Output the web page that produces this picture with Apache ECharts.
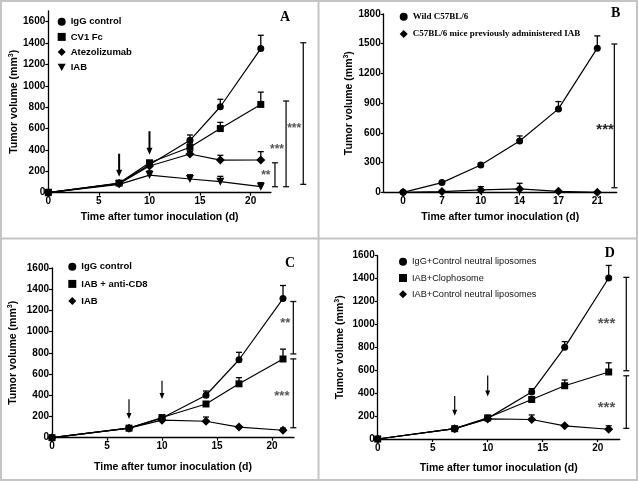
<!DOCTYPE html>
<html><head><meta charset="utf-8">
<script src="https://cdn.jsdelivr.net/npm/echarts@6/dist/echarts.min.js"></script>
<style>html,body{margin:0;padding:0;background:#fff}#c{width:638px;height:481px}</style>
</head><body><div id="c"></div>
<script>
// ---------------- DATA ----------------
const DAYS = [0, 7, 10, 14, 17, 21];
const B_DAY_LABELS = ['0', '7', '10', '14', '17', '21'];
const X_TICKS = [0, 5, 10, 15, 20];
const Y_TICKS_1600 = [0, 200, 400, 600, 800, 1000, 1200, 1400, 1600];
const Y_TICKS_B = [0, 300, 600, 900, 1200, 1500, 1800];

// Panel A
const A_NAMES = ['IgG control', 'CV1 Fc', 'Atezolizumab', 'IAB'];
const A_IGG = [0, 88, 262, 490, 804, 1348];
const A_IGG_ERR = [0, 8, 15, 50, 70, 125];
const A_CV1 = [0, 90, 280, 425, 600, 826];
const A_CV1_ERR = [0, 8, 15, 40, 58, 115];
const A_ATEZO = [0, 85, 250, 362, 305, 306];
const A_ATEZO_ERR = [0, 8, 15, 25, 45, 78];
const A_IAB = [0, 78, 165, 128, 103, 56];
const A_IAB_ERR = [0, 8, 40, 40, 50, 38];
const A_ARROWS = [[7, 365, 150], [10, 575, 355]];
const A_BRACKETS = [[22.4, 56, 280], [23.5, 56, 858], [25.2, 78, 1403]];
const A_STARS = [[21.5, 180], [22.6, 425], [24.3, 624]];
const A_STAR_TEXT = ['**', '***', '***'];

// Panel B
const B_NAMES = ['Wild C57BL/6', 'C57BL/6 mice previously administered IAB'];
const B_WILD = [0, 98, 276, 518, 842, 1455];
const B_WILD_ERR = [0, 8, 17, 51, 74, 124];
const B_PREV = [0, 7, 24, 34, 10, 0];
const B_PREV_ERR = [0, 3, 33, 57, 4, 3];
const B_BRACKETS = [[5.44, 46, 1497]];
const B_STARS = [[5.2, 660]];
const B_STAR_TEXT = ['***'];

// Panel C
const C_NAMES = ['IgG control', 'IAB + anti-CD8', 'IAB'];
const C_IGG = [0, 90, 185, 400, 735, 1312];
const C_IGG_ERR = [0, 8, 15, 40, 70, 123];
const C_CD8 = [0, 90, 190, 318, 508, 742];
const C_CD8_ERR = [0, 8, 15, 20, 58, 93];
const C_IAB = [0, 90, 165, 155, 100, 70];
const C_IAB_ERR = [0, 8, 15, 40, 10, 20];
const C_ARROWS = [[7, 363, 177], [10, 538, 365]];
const C_BRACKETS = [[21.94, 790, 1284], [21.94, 94, 743]];
const C_STARS = [[21.2, 1100], [20.9, 413]];
const C_STAR_TEXT = ['**', '***'];

// Panel D
const D_NAMES = ['IgG+Control neutral liposomes', 'IAB+Clophosome', 'IAB+Control neutral liposomes'];
const D_IGG = [0, 90, 180, 410, 800, 1405];
const D_IGG_ERR = [0, 8, 15, 30, 50, 110];
const D_CLO = [0, 90, 185, 345, 465, 585];
const D_CLO_ERR = [0, 8, 15, 15, 50, 80];
const D_IAB = [0, 90, 175, 170, 115, 85];
const D_IAB_ERR = [0, 8, 10, 40, 10, 30];
const D_ARROWS = [[7, 375, 203], [10, 555, 372]];
const D_BRACKETS = [[22.6, 596, 1411], [22.6, 93, 552]];
const D_STARS = [[20.8, 1030], [20.8, 303]];
const D_STAR_TEXT = ['***', '***'];

// ---------------- RENDERING ----------------
const SANS = '"Liberation Sans", Arial, Helvetica, sans-serif';
const SERIF = '"Liberation Serif", "Times New Roman", serif';
const INV_TRI = 'path://M0,0L10,0L5,9Z';
const B_X = B_DAY_LABELS.map((_, k) => k);

const chart = echarts.init(document.getElementById('c'), null, { renderer: 'canvas' });

function errRender(params, api) {
  const e = api.value(2);
  if (!e) return null;
  const p0 = api.coord([api.value(0), api.value(1)]);
  const p1 = api.coord([api.value(0), api.value(1) + e]);
  const w = 3;
  return { type: 'group', children: [
    { type: 'line', shape: { x1: p0[0], y1: p0[1], x2: p1[0], y2: p1[1] }, style: { stroke: '#000', lineWidth: 1.3 } },
    { type: 'line', shape: { x1: p1[0] - w, y1: p1[1], x2: p1[0] + w, y2: p1[1] }, style: { stroke: '#000', lineWidth: 1.3 } }
  ] };
}
function bracketRender(params, api) {
  const lo = api.coord([api.value(0), api.value(1)]);
  const hi = api.coord([api.value(0), api.value(2)]);
  const w = 3;
  const st = { stroke: '#111', lineWidth: 1.3 };
  return { type: 'group', children: [
    { type: 'line', shape: { x1: lo[0], y1: lo[1], x2: hi[0], y2: hi[1] }, style: st },
    { type: 'line', shape: { x1: lo[0] - w, y1: lo[1], x2: lo[0] + w, y2: lo[1] }, style: st },
    { type: 'line', shape: { x1: hi[0] - w, y1: hi[1], x2: hi[0] + w, y2: hi[1] }, style: st }
  ] };
}
function arrowRender(lw, hw, hl) {
  return function (params, api) {
    const t = api.coord([api.value(0), api.value(1)]);
    const b = api.coord([api.value(0), api.value(2)]);
    return { type: 'group', children: [
      { type: 'line', shape: { x1: t[0], y1: t[1], x2: b[0], y2: b[1] - hl + 1 }, style: { stroke: '#000', lineWidth: lw } },
      { type: 'polygon', shape: { points: [[b[0] - hw / 2, b[1] - hl], [b[0] + hw / 2, b[1] - hl], [b[0], b[1]]] }, style: { fill: '#000' } }
    ] };
  };
}
function starRender(texts, fs, color) {
  return function (params, api) {
    const p = api.coord([api.value(0), api.value(1)]);
    return { type: 'text', x: p[0], y: p[1] + fs * 0.22, style: { text: texts[params.dataIndex], fill: color, font: 'bold ' + fs + 'px ' + SANS, align: 'center', verticalAlign: 'middle' } };
  };
}

const series = [];
function addPanel(gi, xs, lines, arrows, arrowStyle, brackets, stars, starText, starFs, starColor) {
  lines.forEach(l => {
    series.push({ type: 'custom', xAxisIndex: gi, yAxisIndex: gi, silent: true, z: 3,
      data: xs.map((x, k) => [x, l.v[k], l.e[k]]), renderItem: errRender });
    series.push({ type: 'line', name: l.name, xAxisIndex: gi, yAxisIndex: gi, silent: true, z: 5,
      data: xs.map((x, k) => [x, l.v[k]]), symbol: l.sym, symbolSize: l.size, showSymbol: true, showAllSymbol: true,
      itemStyle: { color: '#000' }, lineStyle: { color: '#000', width: 1.2 } });
  });
  if (arrows) series.push({ type: 'custom', xAxisIndex: gi, yAxisIndex: gi, silent: true, z: 6, data: arrows, renderItem: arrowRender.apply(null, arrowStyle) });
  series.push({ type: 'custom', xAxisIndex: gi, yAxisIndex: gi, silent: true, z: 6, clip: false, data: brackets, renderItem: bracketRender });
  series.push({ type: 'custom', xAxisIndex: gi, yAxisIndex: gi, silent: true, z: 6, clip: false, data: stars, renderItem: starRender(starText, starFs, starColor) });
}

addPanel(0, DAYS, [
  { name: A_NAMES[0], v: A_IGG, e: A_IGG_ERR, sym: 'circle', size: 7 },
  { name: A_NAMES[1], v: A_CV1, e: A_CV1_ERR, sym: 'rect', size: 7 },
  { name: A_NAMES[2], v: A_ATEZO, e: A_ATEZO_ERR, sym: 'diamond', size: 9 },
  { name: A_NAMES[3], v: A_IAB, e: A_IAB_ERR, sym: INV_TRI, size: 8 }
], A_ARROWS, [2, 6, 7], A_BRACKETS, A_STARS, A_STAR_TEXT, 12, '#555');
addPanel(1, B_X, [
  { name: B_NAMES[0], v: B_WILD, e: B_WILD_ERR, sym: 'circle', size: 7 },
  { name: B_NAMES[1], v: B_PREV, e: B_PREV_ERR, sym: 'diamond', size: 9 }
], null, null, B_BRACKETS, B_STARS, B_STAR_TEXT, 15, '#222');
addPanel(2, DAYS, [
  { name: C_NAMES[0], v: C_IGG, e: C_IGG_ERR, sym: 'circle', size: 7 },
  { name: C_NAMES[1], v: C_CD8, e: C_CD8_ERR, sym: 'rect', size: 7 },
  { name: C_NAMES[2], v: C_IAB, e: C_IAB_ERR, sym: 'diamond', size: 9 }
], C_ARROWS, [1.2, 5, 6], C_BRACKETS, C_STARS, C_STAR_TEXT, 13, '#555');
addPanel(3, DAYS, [
  { name: D_NAMES[0], v: D_IGG, e: D_IGG_ERR, sym: 'circle', size: 7 },
  { name: D_NAMES[1], v: D_CLO, e: D_CLO_ERR, sym: 'rect', size: 7 },
  { name: D_NAMES[2], v: D_IAB, e: D_IAB_ERR, sym: 'diamond', size: 9 }
], D_ARROWS, [1.2, 5, 6], D_BRACKETS, D_STARS, D_STAR_TEXT, 15, '#555');

const grids = [
  { left: 48.3, top: 11, width: 222.6, height: 181.7 },
  { left: 383.7, top: 14, width: 233, height: 178.3 },
  { left: 52, top: 268, width: 242, height: 169.7 },
  { left: 377.7, top: 255.7, width: 242, height: 183.3 }
];

const axLine = { show: true, onZero: false, lineStyle: { color: '#000', width: 1.3 } };
const labStyle = { color: '#000', fontFamily: SANS, fontWeight: 'bold', fontSize: 10 };
const nameStyle = { color: '#000', fontFamily: SANS, fontWeight: 'bold', fontSize: 10.5 };
const yName = '{a|Tumor volume (mm}{s|3}{a|)}';
const yNameStyle = { rich: {
  a: { color: '#000', fontFamily: SANS, fontWeight: 'bold', fontSize: 10.5, lineHeight: 13 },
  s: { color: '#000', fontFamily: SANS, fontWeight: 'bold', fontSize: 7, verticalAlign: 'top', lineHeight: 8 }
} };

function inList(list) { return v => (list.indexOf(v) >= 0 ? String(v) : ''); }

function xAx(gi, min, max, ticks, fmt, gap) {
  return { type: 'value', gridIndex: gi, min, max, interval: 1, splitLine: { show: false },
    axisLine: axLine, axisTick: { show: true, length: 3, customValues: ticks, lineStyle: { color: '#000', width: 1.2 } },
    axisLabel: Object.assign({ margin: 4, customValues: ticks, formatter: fmt }, labStyle),
    name: 'Time after tumor inoculation (d)', nameLocation: 'middle', nameGap: gap, nameTextStyle: nameStyle };
}
function yAx(gi, max, interval, ticks, gap) {
  return { type: 'value', gridIndex: gi, min: 0, max, interval, splitLine: { show: false },
    axisLine: axLine, axisTick: { show: true, length: 3, customValues: ticks, lineStyle: { color: '#000', width: 1.2 } },
    axisLabel: Object.assign({ margin: 3, customValues: ticks, formatter: inList(ticks) }, labStyle),
    name: yName, nameLocation: 'middle', nameGap: gap, nameTextStyle: yNameStyle };
}

const legTxt = { color: '#000', fontFamily: SANS, fontWeight: 'bold', fontSize: 9.5, lineHeight: 12 };
function leg(left, top, gap, names, icons, txt, iw) {
  return { orient: 'vertical', left, top, padding: 0, itemGap: gap, itemWidth: iw || 8, itemHeight: 8,
    selectedMode: false, textStyle: txt, data: names.map((n, k) => ({ name: n, icon: icons[k] })) };
}

const option = {
  animation: false,
  backgroundColor: '#fff',
  grid: grids,
  xAxis: [
    xAx(0, 0, 22, X_TICKS, inList(X_TICKS), 19),
    xAx(1, -0.5, 5.5, B_X, v => (B_X.indexOf(v) >= 0 ? B_DAY_LABELS[v] : ''), 19),
    xAx(2, 0, 22, X_TICKS, inList(X_TICKS), 24),
    xAx(3, 0, 22, X_TICKS, inList(X_TICKS), 23.5)
  ],
  yAxis: [
    yAx(0, 1700, 100, Y_TICKS_1600, 27),
    yAx(1, 1800, 300, Y_TICKS_B, 27),
    yAx(2, 1600, 200, Y_TICKS_1600, 32),
    yAx(3, 1600, 200, Y_TICKS_1600, 31.5)
  ],
  legend: [
    leg(57.7, 15.7, 3.2, A_NAMES, ['circle', 'rect', 'diamond', INV_TRI], legTxt),
    leg(399.7, 10.7, 5.3, B_NAMES, ['circle', 'diamond'], { color: '#000', fontFamily: SERIF, fontWeight: 'bold', fontSize: 9, lineHeight: 12 }),
    leg(68.3, 260.7, 5.2, C_NAMES, ['circle', 'rect', 'diamond'], Object.assign({}, legTxt, { fontSize: 9.5 })),
    leg(399, 255.7, 4.3, D_NAMES, ['circle', 'rect', 'diamond'], { color: '#111', fontFamily: SANS, fontWeight: 'normal', fontSize: 9.2, lineHeight: 12 })
  ],
  graphic: [
    { type: 'rect', shape: { x: 1, y: 1, width: 636, height: 479 }, style: { fill: 'none', stroke: '#c4c4c4', lineWidth: 2 }, silent: true },
    { type: 'line', shape: { x1: 318.5, y1: 0, x2: 318.5, y2: 481 }, style: { stroke: '#c4c4c4', lineWidth: 2 }, silent: true },
    { type: 'line', shape: { x1: 0, y1: 238.5, x2: 638, y2: 238.5 }, style: { stroke: '#c4c4c4', lineWidth: 2 }, silent: true },
    { type: 'text', x: 285, y: 17.5, style: { text: 'A', font: 'bold 14px ' + SERIF, fill: '#000', align: 'center', verticalAlign: 'middle' }, silent: true },
    { type: 'text', x: 615.7, y: 13, style: { text: 'B', font: 'bold 14px ' + SERIF, fill: '#000', align: 'center', verticalAlign: 'middle' }, silent: true },
    { type: 'text', x: 290, y: 263, style: { text: 'C', font: 'bold 14px ' + SERIF, fill: '#000', align: 'center', verticalAlign: 'middle' }, silent: true },
    { type: 'text', x: 609.7, y: 253.5, style: { text: 'D', font: 'bold 14px ' + SERIF, fill: '#000', align: 'center', verticalAlign: 'middle' }, silent: true }
  ],
  series
};
chart.setOption(option);
</script></body></html>
